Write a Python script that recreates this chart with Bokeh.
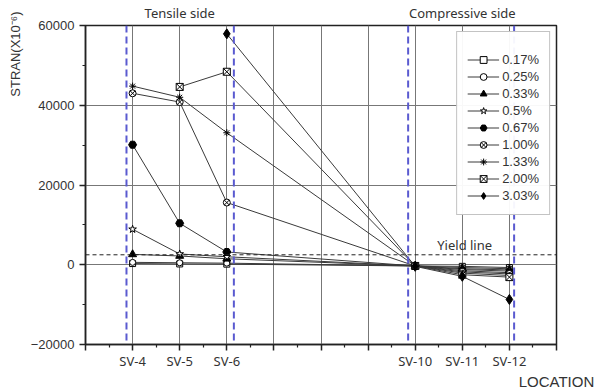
import math
from bokeh.plotting import figure
from bokeh.models import (FixedTicker, Span, Label, Legend, LegendItem, Range1d,
                          LinearAxis, Title)
from bokeh.embed import file_html
from bokeh.resources import INLINE

# Strain gauges along the member and their slot on the location axis
gauges = ["SV-4", "SV-5", "SV-6", "SV-10", "SV-11", "SV-12"]
gauge_pos = [1, 2, 3, 7, 8, 9]

# Drift ratios (legend) and measured strain (x10^-6) at each gauge
drifts = ["0.17%", "0.25%", "0.33%", "0.5%", "0.67%", "1.00%", "1.33%", "2.00%", "3.03%"]
nan = math.nan
strain_017 = [300, 200, 150, -300, -400, -700]
strain_025 = [600, 500, 400, -300, -700, -1000]
strain_033 = [2600, 2200, 1500, -300, -1000, -1300]
strain_050 = [8900, 2700, 2000, -300, -1200, -1600]
strain_067 = [30100, 10400, 3200, -300, -1500, -2000]
strain_100 = [43000, 40800, 15600, -300, -1800, -2300]
strain_133 = [44800, 42000, 33100, -300, -2100, -2700]
strain_200 = [nan, 44600, 48400, -300, -2500, -3100]
strain_303 = [nan, nan, 57900, -400, -2900, -8700]

yield_strain = 2500
section_edges = [0.87, 3.15, 6.85, 9.1]
section_names = ["Tensile side", "Compressive side"]
section_centres = [2, 8]

series = [strain_017, strain_025, strain_033, strain_050, strain_067,
          strain_100, strain_133, strain_200, strain_303]
marker_style = [
    ("square", "white", 6),
    ("circle", "white", 6),
    ("triangle", "black", 8),
    ("star", "white", 8),
    ("hex", "black", 8),
    ("circle_x", "white", 7),
    ("asterisk", "white", 7),
    ("square_x", "white", 7),
    ("diamond", "black", 10),
]

WORD_FONT = "Noto Sans"
NUM_FONT = "Liberation Sans"
TEXT_COLOR = "#333333"

p = figure(width=597, height=392, x_range=Range1d(0, 10), y_range=Range1d(-20000, 60000),
           output_backend="svg", toolbar_location=None,
           min_border_left=83, min_border_right=41, min_border_top=24, min_border_bottom=46)
p.background_fill_color = "white"
p.border_fill_color = "white"
p.outline_line_color = "#222222"
p.outline_line_width = 1.5

# x axis: gauge names at their slots, plain ticks elsewhere
p.xaxis.ticker = FixedTicker(ticks=list(range(0, 11)),
                             minor_ticks=[i + 0.5 for i in range(10)])
overrides = {i: "" for i in range(0, 11)}
for name, pos in zip(gauges, gauge_pos):
    overrides[pos] = name
p.xaxis.major_label_overrides = overrides
p.yaxis.ticker = FixedTicker(ticks=[-20000, 0, 20000, 40000, 60000],
                             minor_ticks=list(range(-20000, 60001, 10000)))

for ax in (p.xaxis[0], p.yaxis[0]):
    ax.axis_line_color = "#222222"
    ax.axis_line_width = 1.5
    ax.major_tick_in = 0
    ax.major_tick_out = 6
    ax.minor_tick_in = 0
    ax.minor_tick_out = 3
    ax.major_tick_line_color = "#222222"
    ax.major_tick_line_width = 1.5
    ax.minor_tick_line_color = "#222222"
    ax.minor_tick_line_width = 1.2
    ax.major_label_text_color = TEXT_COLOR
    ax.major_label_text_font_size = "13px"
p.xaxis.major_label_text_font = WORD_FONT
p.xaxis.major_label_standoff = 1
p.yaxis.major_label_text_font = NUM_FONT
p.yaxis.major_label_standoff = 5


def caption_axis(ticks, names, standoff, font, size):
    ax = LinearAxis(ticker=FixedTicker(ticks=ticks, minor_ticks=[]),
                    major_label_overrides=dict(zip(ticks, names)))
    ax.axis_line_color = None
    ax.major_tick_line_color = None
    ax.minor_tick_line_color = None
    ax.major_tick_in = 0
    ax.major_tick_out = 0
    ax.major_label_standoff = standoff
    ax.major_label_text_font = font
    ax.major_label_text_font_size = size
    ax.major_label_text_color = TEXT_COLOR
    return ax


# section captions above the frame
p.add_layout(caption_axis(section_centres, section_names, 4, WORD_FONT, "13px"), "above")
# axis title at the right end, below the gauge names
p.add_layout(caption_axis([10], ["LOCATION"], 0, NUM_FONT, "15px"), "below")
# y axis title, read upward from the upper part of the axis
p.add_layout(Title(text="STRAN(X10\u207b\u2076)", align="right", offset=-14, standoff=10,
                   text_font=NUM_FONT, text_font_size="13px", text_font_style="normal",
                   text_color=TEXT_COLOR), "left")

p.xgrid.ticker = FixedTicker(ticks=list(range(1, 10)))
p.xgrid.grid_line_color = "#777777"
p.xgrid.grid_line_width = 1
p.ygrid.grid_line_color = "#777777"
p.ygrid.grid_line_width = 1

# tensile / compressive section boundaries
for xe in section_edges:
    p.add_layout(Span(location=xe, dimension="height", line_color="#5a5ad0",
                      line_width=2, line_dash="7 4"))

# yield line
p.add_layout(Span(location=yield_strain, dimension="width", line_color="#222222",
                  line_width=1, line_dash="4 3"))
p.add_layout(Label(x=8.05, y=yield_strain, text="Yield line", text_align="center",
                   text_baseline="bottom", y_offset=1, text_font=WORD_FONT,
                   text_font_size="13px", text_color=TEXT_COLOR))

items = []
for label, vals, (mk, fill, size) in zip(drifts, series, marker_style):
    ln = p.line(gauge_pos, vals, line_color="#3a3a3a", line_width=1)
    sc = p.scatter(gauge_pos, vals, marker=mk, size=size, fill_color=fill,
                   line_color="black", line_width=1)
    items.append(LegendItem(label=label, renderers=[ln, sc]))

legend = Legend(items=items, location="top_right", margin=6, padding=10, spacing=0,
                glyph_width=32, glyph_height=17, label_height=17, label_standoff=3,
                label_text_font=NUM_FONT, label_text_font_size="13px",
                label_text_color=TEXT_COLOR, border_line_color="#888888",
                border_line_width=1, background_fill_color="white",
                title=" ", title_text_font_size="8px", title_standoff=0)
p.add_layout(legend)

open("out.html", "w").write(file_html(p, INLINE))
